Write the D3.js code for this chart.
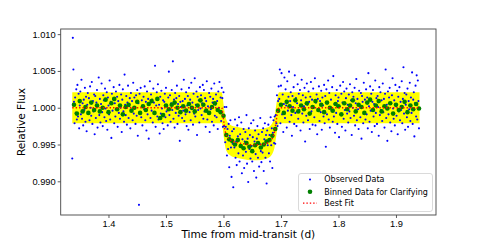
<!DOCTYPE html>
<html>
<head>
<meta charset="utf-8">
<script src="https://cdn.jsdelivr.net/npm/d3@7"></script>
<style>
  html, body { margin: 0; padding: 0; background: #fff; }
  svg { display: block; font-family: 'DejaVu Sans', sans-serif; }
</style>
</head>
<body>
<div id="chart"></div>
<script>
// --- Data: observed light curve (time in d, relative flux) ---
const obsTime = [
  1.337,1.338,1.339,1.340,1.341,1.342,1.343,1.344,1.345,1.346,
  1.347,1.348,1.349,1.350,1.351,1.352,1.353,1.354,1.355,1.356,
  1.357,1.358,1.359,1.360,1.361,1.362,1.363,1.364,1.365,1.366,
  1.367,1.368,1.369,1.370,1.371,1.372,1.373,1.374,1.375,1.376,
  1.377,1.378,1.379,1.380,1.381,1.382,1.383,1.384,1.385,1.386,
  1.387,1.388,1.389,1.390,1.391,1.392,1.393,1.394,1.395,1.396,
  1.397,1.398,1.399,1.400,1.401,1.402,1.403,1.404,1.405,1.406,
  1.407,1.408,1.409,1.410,1.411,1.412,1.413,1.414,1.415,1.416,
  1.417,1.418,1.419,1.420,1.421,1.422,1.423,1.424,1.425,1.426,
  1.427,1.428,1.429,1.430,1.431,1.432,1.433,1.434,1.435,1.436,
  1.437,1.438,1.439,1.440,1.441,1.442,1.443,1.444,1.445,1.446,
  1.447,1.448,1.449,1.450,1.451,1.452,1.453,1.454,1.455,1.456,
  1.457,1.458,1.459,1.460,1.461,1.462,1.463,1.464,1.465,1.466,
  1.467,1.468,1.469,1.470,1.471,1.472,1.473,1.474,1.475,1.476,
  1.477,1.478,1.479,1.480,1.481,1.482,1.483,1.484,1.485,1.486,
  1.487,1.488,1.489,1.490,1.491,1.492,1.493,1.494,1.495,1.496,
  1.497,1.498,1.499,1.500,1.501,1.502,1.503,1.504,1.505,1.506,
  1.507,1.508,1.509,1.510,1.511,1.512,1.513,1.514,1.515,1.516,
  1.517,1.518,1.519,1.520,1.521,1.522,1.523,1.524,1.525,1.526,
  1.527,1.528,1.529,1.530,1.531,1.532,1.533,1.534,1.535,1.536,
  1.537,1.538,1.539,1.540,1.541,1.542,1.543,1.544,1.545,1.546,
  1.547,1.548,1.549,1.550,1.551,1.552,1.553,1.554,1.555,1.556,
  1.557,1.558,1.559,1.560,1.561,1.562,1.563,1.564,1.565,1.566,
  1.567,1.568,1.569,1.570,1.571,1.572,1.573,1.574,1.575,1.576,
  1.577,1.578,1.579,1.580,1.581,1.582,1.583,1.584,1.585,1.586,
  1.587,1.588,1.589,1.590,1.591,1.592,1.593,1.594,1.595,1.596,
  1.597,1.598,1.599,1.600,1.601,1.602,1.603,1.604,1.605,1.606,
  1.607,1.608,1.609,1.610,1.611,1.612,1.613,1.614,1.615,1.616,
  1.617,1.618,1.619,1.620,1.621,1.622,1.623,1.624,1.625,1.626,
  1.627,1.628,1.629,1.630,1.631,1.632,1.633,1.634,1.635,1.636,
  1.637,1.638,1.639,1.640,1.641,1.642,1.643,1.644,1.645,1.646,
  1.647,1.648,1.649,1.650,1.651,1.652,1.653,1.654,1.655,1.656,
  1.657,1.658,1.659,1.660,1.661,1.662,1.663,1.664,1.665,1.666,
  1.667,1.668,1.669,1.670,1.671,1.672,1.673,1.674,1.675,1.676,
  1.677,1.678,1.679,1.680,1.681,1.682,1.683,1.684,1.685,1.686,
  1.687,1.688,1.689,1.690,1.691,1.692,1.693,1.694,1.695,1.696,
  1.697,1.698,1.699,1.700,1.701,1.702,1.703,1.704,1.705,1.706,
  1.707,1.708,1.709,1.710,1.711,1.712,1.713,1.714,1.715,1.716,
  1.717,1.718,1.719,1.720,1.721,1.722,1.723,1.724,1.725,1.726,
  1.727,1.728,1.729,1.730,1.731,1.732,1.733,1.734,1.735,1.736,
  1.737,1.738,1.739,1.740,1.741,1.742,1.743,1.744,1.745,1.746,
  1.747,1.748,1.749,1.750,1.751,1.752,1.753,1.754,1.755,1.756,
  1.757,1.758,1.759,1.760,1.761,1.762,1.763,1.764,1.765,1.766,
  1.767,1.768,1.769,1.770,1.771,1.772,1.773,1.774,1.775,1.776,
  1.777,1.778,1.779,1.780,1.781,1.782,1.783,1.784,1.785,1.786,
  1.787,1.788,1.789,1.790,1.791,1.792,1.793,1.794,1.795,1.796,
  1.797,1.798,1.799,1.800,1.801,1.802,1.803,1.804,1.805,1.806,
  1.807,1.808,1.809,1.810,1.811,1.812,1.813,1.814,1.815,1.816,
  1.817,1.818,1.819,1.820,1.821,1.822,1.823,1.824,1.825,1.826,
  1.827,1.828,1.829,1.830,1.831,1.832,1.833,1.834,1.835,1.836,
  1.837,1.838,1.839,1.840,1.841,1.842,1.843,1.844,1.845,1.846,
  1.847,1.848,1.849,1.850,1.851,1.852,1.853,1.854,1.855,1.856,
  1.857,1.858,1.859,1.860,1.861,1.862,1.863,1.864,1.865,1.866,
  1.867,1.868,1.869,1.870,1.871,1.872,1.873,1.874,1.875,1.876,
  1.877,1.878,1.879,1.880,1.881,1.882,1.883,1.884,1.885,1.886,
  1.887,1.888,1.889,1.890,1.891,1.892,1.893,1.894,1.895,1.896,
  1.897,1.898,1.899,1.900,1.901,1.902,1.903,1.904,1.905,1.906,
  1.907,1.908,1.909,1.910,1.911,1.912,1.913,1.914,1.915,1.916,
  1.917,1.918,1.919,1.920,1.921,1.922,1.923,1.924,1.925,1.926,
  1.927,1.928,1.929,1.930,1.931,1.932,1.933,1.934,1.935,1.936,
  1.937,1.938,1.939,1.940
];

const obsFlux = [
  // before transit (1.337 - 1.597)
  0.9931,1.0095,1.0052,1.0008,0.9979,1.0014,0.9993,1.0025,0.9984,1.0031,
  0.9988,1.0019,0.9972,1.0003,1.0022,0.9991,1.0038,0.9985,1.0006,0.9976,
  1.0011,0.9997,1.0027,0.9981,1.0015,0.9968,1.0004,1.0020,0.9992,1.0013,
  0.9983,1.0029,1.0000,0.9989,1.0035,0.9978,1.0009,0.9995,1.0018,0.9964,
  1.0016,0.9986,1.0007,1.0024,0.9973,1.0002,1.0041,0.9990,1.0012,0.9980,
  1.0005,1.0033,0.9994,0.9975,1.0017,1.0010,0.9987,1.0026,0.9999,0.9982,
  1.0021,0.9970,1.0014,1.0003,0.9991,1.0037,0.9984,1.0008,0.9959,1.0019,
  0.9996,1.0012,1.0028,0.9979,1.0006,0.9988,1.0022,0.9998,1.0015,0.9974,
  1.0009,0.9993,1.0031,0.9985,1.0000,1.0018,0.9967,1.0011,1.0025,0.9995,
  0.9981,1.0045,1.0004,0.9990,1.0016,0.9977,1.0007,1.0030,0.9986,1.0002,
  1.0013,0.9972,1.0020,0.9997,1.0009,0.9983,1.0034,0.9992,1.0014,1.0001,
  0.9978,1.0017,0.9989,1.0024,0.9962,1.0006,0.9868,1.0019,0.9994,1.0027,
  0.9987,1.0010,0.9976,1.0003,1.0015,0.9998,1.0029,0.9983,1.0008,0.9969,
  1.0022,0.9991,1.0012,0.9958,1.0005,1.0036,0.9986,1.0018,0.9996,1.0011,
  0.9980,1.0026,1.0007,0.9993,1.0057,0.9974,1.0003,1.0021,0.9988,1.0032,
  0.9984,1.0004,0.9965,1.0015,0.9992,1.0023,0.9999,0.9979,1.0010,0.9971,
  1.0008,1.0019,0.9987,1.0027,0.9995,1.0002,0.9976,1.0014,1.0049,0.9990,
  1.0017,0.9981,1.0006,1.0024,0.9997,1.0063,0.9985,1.0011,0.9973,1.0020,
  0.9993,1.0013,1.0030,0.9978,1.0005,0.9989,1.0016,0.9955,1.0008,1.0001,
  1.0025,0.9986,1.0009,0.9996,1.0038,0.9982,1.0012,0.9991,1.0021,0.9975,
  1.0003,1.0016,0.9970,1.0027,0.9994,1.0011,0.9983,1.0034,0.9998,1.0007,
  0.9977,1.0019,0.9992,1.0040,0.9988,1.0004,1.0022,0.9963,1.0015,0.9997,
  1.0010,0.9980,1.0028,0.9999,1.0017,0.9990,1.0006,1.0031,0.9985,1.0024,
  0.9995,1.0013,0.9974,1.0009,1.0036,0.9984,1.0002,0.9992,1.0020,0.9967,
  1.0015,0.9998,1.0026,0.9981,1.0007,1.0012,0.9976,1.0033,0.9989,1.0004,
  1.0018,0.9987,1.0009,0.9971,1.0022,1.0000,1.0035,0.9993,1.0014,0.9982,
  1.0027,
  // in transit (1.598 - 1.696)
  1.0013,0.9974,1.0021,0.9975,1.0001,0.9953,0.9974,1.0001,0.9935,0.9971,
  0.9944,0.9978,0.9919,0.9962,0.9983,0.9946,0.9906,0.9968,0.9951,0.9892,
  0.9971,0.9946,0.9984,0.9932,0.9954,0.9922,0.9976,0.9961,0.9938,0.9987,
  0.9927,0.9964,0.9948,0.9980,0.9911,0.9957,0.9935,0.9971,0.9918,0.9954,
  0.9967,0.9940,0.9990,0.9924,0.9958,0.9899,0.9972,0.9944,0.9963,0.9931,
  0.9979,0.9948,0.9927,0.9960,0.9983,0.9914,0.9954,0.9969,0.9937,0.9905,
  0.9958,0.9975,0.9932,0.9964,0.9920,0.9951,0.9986,0.9941,0.9926,0.9967,
  0.9939,0.9972,0.9914,0.9957,0.9979,0.9932,0.9963,0.9897,0.9969,0.9949,
  0.9977,0.9938,0.9963,0.9927,0.9987,0.9949,0.9972,0.9918,0.9966,0.9983,
  0.9952,0.9988,0.9951,0.9990,0.9979,1.0017,0.9975,1.0009,1.0029,
  // after transit (1.697 - 1.940)
  1.0012,1.0052,0.9979,1.0030,1.0047,0.9991,1.0018,0.9967,1.0005,1.0041,
  0.9986,1.0025,1.0003,0.9973,1.0036,0.9996,1.0015,1.0049,0.9981,1.0009,
  1.0021,0.9990,0.9962,1.0016,1.0001,1.0028,0.9978,1.0044,0.9993,1.0013,
  0.9975,1.0006,1.0032,0.9985,1.0019,0.9997,1.0024,0.9969,1.0010,1.0038,
  0.9992,1.0017,0.9980,1.0002,1.0027,0.9954,1.0014,0.9989,1.0033,1.0004,
  0.9983,1.0022,1.0008,0.9971,1.0015,1.0035,0.9995,1.0011,0.9977,1.0026,
  1.0000,0.9987,1.0040,0.9976,1.0007,1.0018,0.9964,1.0012,0.9998,1.0029,
  0.9982,1.0009,0.9994,1.0023,0.9970,1.0014,1.0003,0.9988,1.0031,0.9979,
  1.0016,0.9947,1.0025,0.9991,1.0006,1.0037,0.9984,1.0020,0.9973,1.0001,
  1.0011,0.9996,1.0028,0.9981,1.0043,0.9988,1.0005,0.9966,1.0017,0.9993,
  1.0024,0.9978,1.0009,1.0014,0.9960,1.0002,1.0030,0.9990,1.0019,0.9974,
  1.0007,1.0035,0.9985,1.0022,0.9997,0.9969,1.0013,1.0026,0.9992,1.0004,
  0.9980,1.0018,0.9995,1.0032,0.9986,1.0010,0.9963,1.0021,1.0000,1.0015,
  0.9989,1.0027,0.9976,1.0006,1.0039,0.9983,1.0012,0.9998,0.9971,1.0023,
  1.0003,0.9987,1.0020,0.9958,1.0016,1.0008,0.9979,1.0034,0.9994,1.0011,
  0.9984,1.0025,0.9991,1.0014,0.9972,1.0047,1.0002,0.9981,1.0029,0.9996,
  1.0019,0.9967,1.0008,1.0024,0.9988,1.0005,0.9975,1.0037,0.9993,1.0013,
  0.9978,1.0016,1.0001,0.9962,1.0028,0.9990,1.0021,0.9997,1.0010,0.9982,
  1.0033,0.9994,1.0012,0.9973,1.0019,1.0052,0.9986,1.0004,0.9955,1.0022,
  0.9991,1.0014,1.0027,0.9980,1.0006,0.9968,1.0017,1.0040,0.9999,0.9985,
  1.0010,0.9976,1.0031,1.0002,0.9989,1.0023,0.9964,1.0015,0.9995,1.0028,
  0.9983,1.0008,0.9997,1.0036,0.9979,1.0012,1.0055,0.9992,1.0020,0.9970,
  1.0004,1.0018,0.9987,1.0026,0.9974,1.0009,0.9998,1.0034,0.9982,1.0014,
  0.9993,1.0048,0.9978,1.0011,1.0021,0.9961,1.0006,1.0030,0.9988,1.0044,
  0.9984,1.0037,1.0009,0.9972
];

// --- Data: binned points ---
const binTime = [
  1.340,1.345,1.350,1.355,1.360,1.365,1.370,1.375,1.380,1.385,
  1.390,1.395,1.400,1.405,1.410,1.415,1.420,1.425,1.430,1.435,
  1.440,1.445,1.450,1.455,1.460,1.465,1.470,1.475,1.480,1.485,
  1.490,1.495,1.500,1.505,1.510,1.515,1.520,1.525,1.530,1.535,
  1.540,1.545,1.550,1.555,1.560,1.565,1.570,1.575,1.580,1.585,
  1.590,1.595,1.600,1.605,1.610,1.615,1.620,1.625,1.630,1.635,
  1.640,1.645,1.650,1.655,1.660,1.665,1.670,1.675,1.680,1.685,
  1.690,1.695,1.700,1.705,1.710,1.715,1.720,1.725,1.730,1.735,
  1.740,1.745,1.750,1.755,1.760,1.765,1.770,1.775,1.780,1.785,
  1.790,1.795,1.800,1.805,1.810,1.815,1.820,1.825,1.830,1.835,
  1.840,1.845,1.850,1.855,1.860,1.865,1.870,1.875,1.880,1.885,
  1.890,1.895,1.900,1.905,1.910,1.915,1.920,1.925,1.930,1.935,
  1.940
];
const binFlux = [
  1.0004,0.9992,1.0009,0.9995,1.0001,0.9993,1.0007,0.9997,1.0003,0.9995,
  1.0000,1.0011,0.9994,1.0006,1.0012,0.9998,1.0003,0.9991,1.0001,1.0004,
  0.9996,1.0000,1.0008,0.9993,1.0002,0.9997,1.0005,1.0009,0.9993,1.0012,
  0.9986,0.9990,1.0003,0.9998,1.0004,1.0007,1.0000,0.9994,1.0002,0.9996,
  1.0005,1.0000,0.9995,1.0003,1.0010,1.0004,0.9996,0.9993,1.0001,1.0006,
  0.9997,0.9994,0.9989,0.9963,0.9957,0.9955,0.9950,0.9956,0.9948,0.9945,
  0.9952,0.9947,0.9941,0.9949,0.9952,0.9946,0.9950,0.9954,0.9956,0.9962,
  0.9971,0.9996,1.0004,0.9993,1.0008,1.0002,0.9996,1.0010,0.9995,1.0003,
  0.9998,1.0006,0.9992,1.0001,1.0009,0.9997,1.0004,0.9994,1.0007,1.0000,
  0.9996,1.0005,1.0002,0.9991,1.0006,0.9998,1.0003,1.0010,0.9995,1.0004,
  1.0001,0.9993,1.0007,1.0011,0.9997,1.0003,1.0009,0.9995,1.0002,0.9999,
  1.0006,0.9992,1.0004,0.9997,1.0001,1.0008,0.9994,1.0003,0.9998,1.0005,
  0.9999
];

// --- Data: best-fit transit model and its uncertainty band ---
const fitTime = [1.337, 1.597, 1.599, 1.601, 1.603, 1.606, 1.612, 1.622, 1.635, 1.650,
                 1.665, 1.676, 1.682, 1.686, 1.689, 1.692, 1.695, 1.697, 1.941];
const fitFlux = [1.0000, 1.0000, 0.9991, 0.9978, 0.9968, 0.9961, 0.9956, 0.9953, 0.9951, 0.99495,
                 0.9950, 0.9952, 0.9955, 0.9960, 0.9968, 0.9984, 0.9997, 1.0000, 1.0000];
const bandHigh = [1.0021, 1.0021, 1.0012, 0.9999, 0.9989, 0.9982, 0.9977, 0.9974, 0.9972, 0.99705,
                  0.9971, 0.9973, 0.9976, 0.9981, 0.9989, 1.0005, 1.0018, 1.0021, 1.0021];
const bandLow = [0.9979, 0.9979, 0.9970, 0.9957, 0.9947, 0.9940, 0.9935, 0.9932, 0.9930, 0.99285,
                 0.9929, 0.9931, 0.9934, 0.9939, 0.9947, 0.9963, 0.9976, 0.9979, 0.9979];

// --- Axes ---
const xTicks = [1.4, 1.5, 1.6, 1.7, 1.8, 1.9];
const yTicks = [0.990, 0.995, 1.000, 1.005, 1.010];
const legendLabels = ['Observed Data', 'Binned Data for Clarifying', 'Best Fit'];

function drawChart() {
    const width = 485, height = 242;
    const plot = { left: 60.7, top: 29, right: 436, bottom: 215 };

    const svg = d3.select('#chart')
        .append('svg')
        .attr('width', width)
        .attr('height', height);

    const x = d3.scaleLinear().domain([1.3169, 1.9696]).range([plot.left, plot.right]);
    const y = d3.scaleLinear().domain([0.98542, 1.0107]).range([plot.bottom, plot.top]);

    const obs = d3.zip(obsTime, obsFlux);
    const bins = d3.zip(binTime, binFlux);
    const fit = fitTime.map((t, i) => ({ t, f: fitFlux[i], hi: bandHigh[i], lo: bandLow[i] }));

    svg.append('defs').append('clipPath').attr('id', 'clip')
        .append('rect')
        .attr('x', plot.left).attr('y', plot.top)
        .attr('width', plot.right - plot.left).attr('height', plot.bottom - plot.top);

    const g = svg.append('g').attr('clip-path', 'url(#clip)');

    // yellow band
    g.append('path')
        .datum(fit)
        .attr('fill', '#ffff00')
        .attr('d', d3.area()
            .x(d => x(d.t))
            .y0(d => y(d.lo))
            .y1(d => y(d.hi))
            .curve(d3.curveMonotoneX));

    // observed points
    g.selectAll('.obs')
        .data(obs)
        .enter()
        .append('circle')
        .attr('cx', d => x(d[0]))
        .attr('cy', d => y(d[1]))
        .attr('r', 1.05)
        .attr('fill', '#0000ff');

    // binned points
    g.selectAll('.bin')
        .data(bins)
        .enter()
        .append('circle')
        .attr('cx', d => x(d[0]))
        .attr('cy', d => y(d[1]))
        .attr('r', 2.3)
        .attr('fill', '#008000');

    // best fit
    g.append('path')
        .datum(fit)
        .attr('fill', 'none')
        .attr('stroke', '#ff0000')
        .attr('stroke-width', 1.4)
        .attr('stroke-dasharray', '1.4,2')
        .attr('d', d3.line()
            .x(d => x(d.t))
            .y(d => y(d.f))
            .curve(d3.curveMonotoneX));

    // X axis
    const xAxis = svg.append('g')
        .attr('transform', `translate(0, ${plot.bottom})`)
        .call(d3.axisBottom(x).tickValues(xTicks).tickFormat(d3.format('.1f'))
            .tickSize(3).tickSizeOuter(0).tickPadding(2.5));
    xAxis.select('.domain').remove();
    xAxis.selectAll('text').style('font-size', '9.3px').attr('fill', '#000');

    // Y axis
    const yAxis = svg.append('g')
        .attr('transform', `translate(${plot.left}, 0)`)
        .call(d3.axisLeft(y).tickValues(yTicks).tickFormat(d3.format('.3f'))
            .tickSize(3).tickSizeOuter(0).tickPadding(2));
    yAxis.select('.domain').remove();
    yAxis.selectAll('text').style('font-size', '9.3px').attr('fill', '#000');

    svg.selectAll('.tick line').attr('stroke', '#333').attr('stroke-width', 0.8);

    // frame
    svg.append('rect')
        .attr('x', plot.left).attr('y', plot.top)
        .attr('width', plot.right - plot.left).attr('height', plot.bottom - plot.top)
        .attr('fill', 'none')
        .attr('stroke', '#444')
        .attr('stroke-width', 0.9);

    // axis labels
    svg.append('text')
        .attr('x', (plot.left + plot.right) / 2)
        .attr('y', 238)
        .attr('text-anchor', 'middle')
        .style('font-size', '10.6px')
        .text('Time from mid-transit (d)');

    svg.append('text')
        .attr('transform', `translate(25, ${(plot.top + plot.bottom) / 2}) rotate(-90)`)
        .attr('text-anchor', 'middle')
        .style('font-size', '10.6px')
        .text('Relative Flux');

    // legend
    const lg = svg.append('g').attr('transform', 'translate(298.5, 173.5)');
    lg.append('rect')
        .attr('width', 134).attr('height', 38)
        .attr('rx', 2.5)
        .attr('fill', '#fff').attr('fill-opacity', 0.8)
        .attr('stroke', '#d0d0d0').attr('stroke-width', 0.8);

    const rowY = [6, 18.2, 29.6];
    lg.append('circle').attr('cx', 11.5).attr('cy', rowY[0]).attr('r', 1.05).attr('fill', '#0000ff');
    lg.append('circle').attr('cx', 11.5).attr('cy', rowY[1]).attr('r', 2.3).attr('fill', '#008000');
    lg.append('line')
        .attr('x1', 4.5).attr('x2', 18.5)
        .attr('y1', rowY[2]).attr('y2', rowY[2])
        .attr('stroke', '#ff0000').attr('stroke-width', 1.4)
        .attr('stroke-dasharray', '1.4,2');

    lg.selectAll('.lab')
        .data(legendLabels)
        .enter()
        .append('text')
        .attr('x', 25.8)
        .attr('y', (d, i) => rowY[i] + 2.9)
        .style('font-size', '8px')
        .text(d => d);
}

drawChart();
</script>
</body>
</html>
